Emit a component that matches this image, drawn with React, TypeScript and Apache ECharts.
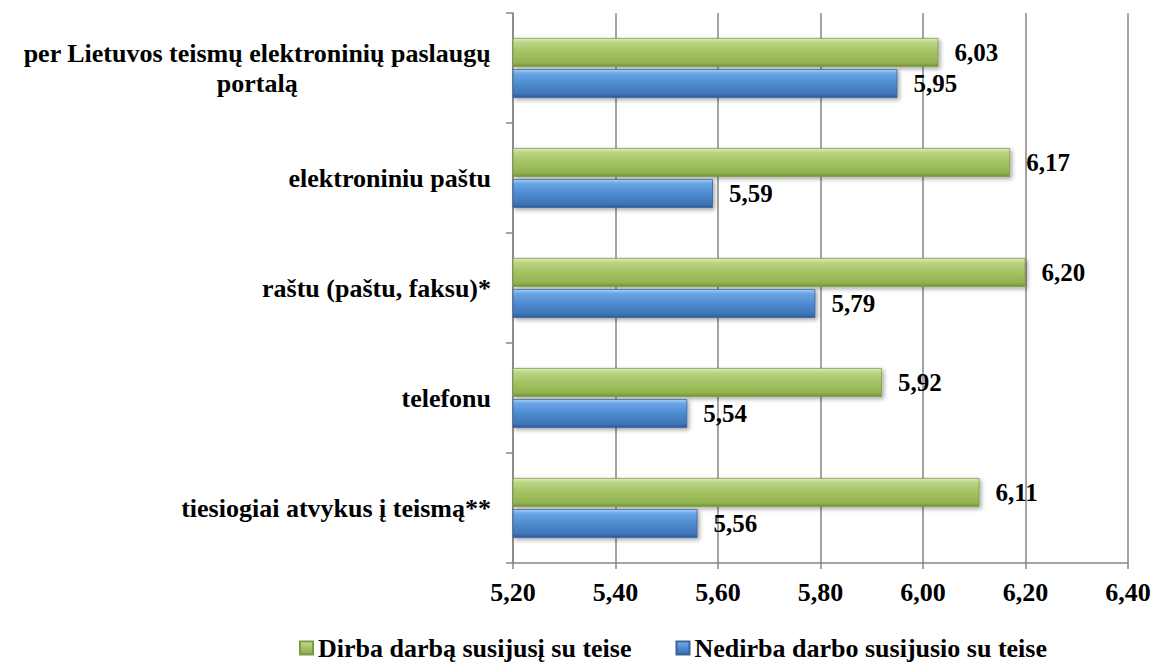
import React, { useEffect, useRef } from "react";
import * as echarts from "echarts";

const categories: string[] = [
  "per Lietuvos teismų elektroninių paslaugų\nportalą",
  "elektroniniu paštu",
  "raštu (paštu, faksu)*",
  "telefonu",
  "tiesiogiai atvykus į teismą**",
];
const seriesNames: string[] = ["Dirba darbą susijusį su teise", "Nedirba darbo susijusio su teise"];
const dirbaValues: number[] = [6.03, 6.17, 6.2, 5.92, 6.11];
const nedirbaValues: number[] = [5.95, 5.59, 5.79, 5.54, 5.56];
const axisMin = 5.2;
const axisMax = 6.4;
const axisStep = 0.2;

const FONT = "Liberation Serif, Times New Roman, serif";

const fmt = (v: number) => v.toFixed(2).replace(".", ",");

const greenGrad = new echarts.graphic.LinearGradient(0, 0, 0, 1, [
  { offset: 0, color: "#e0ecc6" },
  { offset: 0.14, color: "#bcd585" },
  { offset: 0.5, color: "#a3c262" },
  { offset: 0.86, color: "#93b350" },
  { offset: 1, color: "#72913a" },
]);
const blueGrad = new echarts.graphic.LinearGradient(0, 0, 0, 1, [
  { offset: 0, color: "#a8d0f7" },
  { offset: 0.14, color: "#6aa6e6" },
  { offset: 0.5, color: "#4e8bd0" },
  { offset: 0.86, color: "#3f76b8" },
  { offset: 1, color: "#2c5a94" },
]);

export default function App() {
  const ref = useRef<HTMLDivElement>(null);
  useEffect(() => {
    if (!ref.current) return;
    const chart = echarts.init(ref.current, null, { renderer: "svg" });
    const labelCommon = {
      show: true,
      position: "right" as const,
      distance: 16,
      fontFamily: FONT,
      fontWeight: "bold" as const,
      fontSize: 25,
      color: "#000",
      formatter: (p: any) => fmt(p.value),
    };
    chart.setOption({
      animation: false,
      backgroundColor: "#fff",
      textStyle: { fontFamily: FONT },
      grid: { left: 513, right: 26, top: 13, bottom: 101, containLabel: false },
      legend: {
        data: seriesNames,
        left: 294,
        top: 630,
        itemWidth: 13,
        itemHeight: 13,
        itemGap: 44,
        icon: "rect",
        textStyle: { fontFamily: FONT, fontWeight: "bold", fontSize: 26, color: "#000" },
      },
      xAxis: {
        type: "value",
        min: axisMin,
        max: axisMax,
        interval: axisStep,
        axisLine: { show: true, lineStyle: { color: "#868686", width: 1.5 } },
        axisTick: { show: true, length: 6, lineStyle: { color: "#868686", width: 1.5 } },
        splitLine: { show: true, lineStyle: { color: "#868686", width: 1.5 } },
        axisLabel: {
          margin: 16,
          fontFamily: FONT,
          fontWeight: "bold",
          fontSize: 26,
          color: "#000",
          formatter: (v: number) => fmt(v),
        },
      },
      yAxis: {
        type: "category",
        data: categories,
        inverse: true,
        axisLine: { show: true, lineStyle: { color: "#868686", width: 1.5 } },
        axisTick: { show: true, length: 7, lineStyle: { color: "#868686", width: 1.5 } },
        splitLine: { show: false },
        axisLabel: {
          margin: 22,
          color: "#000",
          fontFamily: FONT,
          fontWeight: "bold",
          fontSize: 26,
          lineHeight: 30,
          formatter: (v: string) =>
            v
              .split("\n")
              .map((s) => "{c|" + s + "}")
              .join("\n"),
          rich: {
            c: {
              align: "center",
              fontFamily: FONT,
              fontWeight: "bold",
              fontSize: 26,
              lineHeight: 30,
              color: "#000",
            },
          },
        },
      },
      series: [
        {
          name: seriesNames[0],
          type: "bar",
          data: dirbaValues,
          barWidth: 29,
          barGap: "7%",
          itemStyle: {
            color: greenGrad,
            borderColor: "#7d9a45",
            borderWidth: 0.8,
            shadowColor: "rgba(0,0,0,0.35)",
            shadowBlur: 4,
            shadowOffsetX: 2,
            shadowOffsetY: 2,
          },
          label: labelCommon,
        },
        {
          name: seriesNames[1],
          type: "bar",
          data: nedirbaValues,
          barWidth: 29,
          barGap: "7%",
          itemStyle: {
            color: blueGrad,
            borderColor: "#3a6396",
            borderWidth: 0.8,
            shadowColor: "rgba(0,0,0,0.35)",
            shadowBlur: 4,
            shadowOffsetX: 2,
            shadowOffsetY: 2,
          },
          label: labelCommon,
        },
      ],
    });
    return () => chart.dispose();
  }, []);
  return (
    <div
      ref={ref}
      style={{ position: "absolute", left: 0, top: 0, width: 1154, height: 664 }}
    />
  );
}
